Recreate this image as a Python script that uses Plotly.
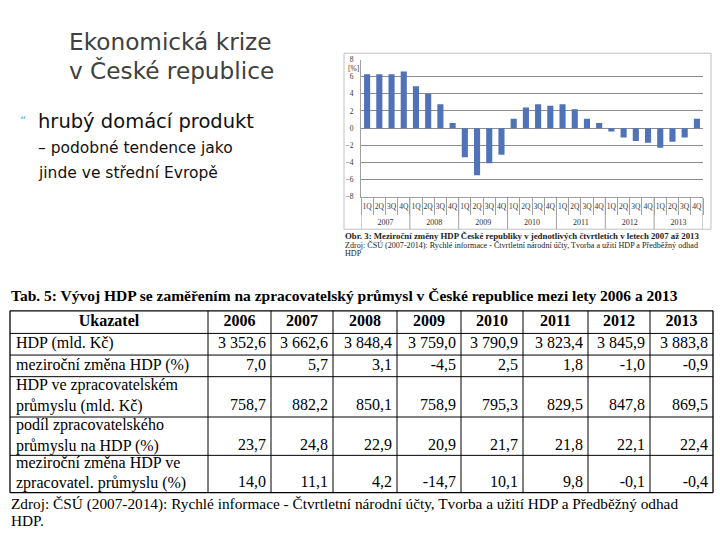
import plotly.graph_objects as go

# ---------------- data ----------------
years_q = ["2007", "2008", "2009", "2010", "2011", "2012", "2013"]
quarters = ["1Q", "2Q", "3Q", "4Q"]
gdp_quarterly_change = [6.3, 6.3, 6.3, 6.6,
                        4.9, 4.0, 2.8, 0.6,
                        -3.4, -5.5, -4.1, -3.1,
                        1.1, 2.4, 2.8, 2.6,
                        2.8, 2.2, 1.1, 0.6,
                        -0.4, -1.1, -1.5, -1.7,
                        -2.3, -1.6, -1.1, 1.1]
y_ticks = [-8, -6, -4, -2, 0, 2, 4, 6, 8]

table_header = ["Ukazatel", "2006", "2007", "2008", "2009", "2010", "2011", "2012", "2013"]
row_labels = ["HDP (mld. Kč)",
              "meziroční změna HDP (%)",
              "HDP ve zpracovatelském<br>průmyslu (mld. Kč)",
              "podíl zpracovatelského<br>průmyslu na HDP (%)",
              "meziroční změna HDP ve<br>zpracovatel. průmyslu (%)"]
hdp = [3352.6, 3662.6, 3848.4, 3759.0, 3790.9, 3823.4, 3845.9, 3883.8]
hdp_change = [7.0, 5.7, 3.1, -4.5, 2.5, 1.8, -1.0, -0.9]
hdp_manuf = [758.7, 882.2, 850.1, 758.9, 795.3, 829.5, 847.8, 869.5]
manuf_share = [23.7, 24.8, 22.9, 20.9, 21.7, 21.8, 22.1, 22.4]
manuf_change = [14.0, 11.1, 4.2, -14.7, 10.1, 9.8, -0.1, -0.4]

# ---------------- layout geometry (pixels) ----------------
W, H = 720, 540
tab_col_edges = [10, 208, 271, 333, 397, 461, 523, 588, 650, 713]
tab_row_edges = [312, 335, 357, 379, 420, 459, 497]


def px(x):
    return x / W


def py(y):
    return 1 - y / H


def fmt(v):
    return f"{v:,.1f}".replace(",", " ").replace(".", ",")


fig = go.Figure()
serif = "Liberation Serif"
GRAY = "#a0a0a0"

# ---------------- bar chart ----------------
nq = len(quarters)
n = len(years_q) * nq
x_pos = list(range(n))
q_labels = [q for _ in years_q for q in quarters]
q_bounds = [i - 0.5 for i in range(n + 1)]
y_centers = [g * nq + (nq - 1) / 2 for g in range(len(years_q))]
y_bounds = [g * nq - 0.5 for g in range(len(years_q) + 1)]
xr = [-0.5, n - 0.5]

fig.add_trace(go.Bar(x=x_pos, y=gdp_quarterly_change,
                     marker=dict(color="#4f72b8", line=dict(width=0)),
                     showlegend=False, hoverinfo="y", xaxis="x", yaxis="y"))
# carriers for the label axes (invisible)
fig.add_trace(go.Scatter(x=x_pos, y=[0] * n, mode="markers", marker=dict(opacity=0),
                         xaxis="x3", yaxis="y", showlegend=False, hoverinfo="skip"))
fig.add_trace(go.Scatter(x=y_centers, y=[0] * len(y_centers), mode="markers",
                         marker=dict(opacity=0), xaxis="x4", yaxis="y",
                         showlegend=False, hoverinfo="skip"))

dom = [px(361), px(703)]
fig.update_layout(
    xaxis=dict(domain=dom, range=xr, anchor="y", showgrid=False, zeroline=False,
               tickvals=q_bounds, ticktext=[""] * len(q_bounds),
               ticks="outside", ticklen=17, tickcolor=GRAY, showline=True, linecolor=GRAY,
               fixedrange=True),
    xaxis3=dict(domain=dom, range=xr, anchor="y", overlaying="x", side="bottom",
                showgrid=False, zeroline=False, showline=False, ticks="",
                tickvals=x_pos, ticktext=q_labels, tickangle=0, ticklabelstandoff=4,
                fixedrange=True, tickfont=dict(family=serif, size=7.5, color="#333")),
    xaxis4=dict(domain=dom, range=xr, anchor="y", overlaying="x", side="bottom",
                showgrid=False, zeroline=False, showline=False, ticks="",
                tickvals=y_centers, ticktext=years_q, tickangle=0, ticklabelstandoff=19,
                fixedrange=True, tickfont=dict(family=serif, size=8, color="#333")),
    yaxis=dict(domain=[py(196), py(56.5)], range=[-8, 8], tickvals=y_ticks,
               showgrid=True, gridcolor="#8c8c8c", gridwidth=1,
               zeroline=True, zerolinecolor="#8c8c8c", zerolinewidth=1,
               showline=True, linecolor=GRAY, ticks="", ticklabelstandoff=5,
               fixedrange=True,
               tickfont=dict(family=serif, size=7.5, color="#333")),
    xaxis2=dict(domain=[0, 1], range=[0, W], anchor="y2", visible=False, fixedrange=True),
    yaxis2=dict(domain=[0, 1], range=[H, 0], anchor="x2", visible=False, fixedrange=True),
    bargap=0.5,
)

# year dividers below the quarter row
for b in y_bounds:
    fig.add_shape(type="line", xref="x", yref="paper", x0=b, x1=b,
                  y0=py(229), y1=py(196), line=dict(color=GRAY, width=1))

# chart frame
fig.add_shape(type="rect", xref="paper", yref="paper",
              x0=px(344), x1=px(711), y0=py(229), y1=py(50),
              line=dict(color="#c0c0c0", width=1))
fig.add_annotation(text="[%]", xref="paper", yref="paper", x=px(346), y=py(66),
                   xanchor="left", yanchor="middle", showarrow=False,
                   font=dict(family=serif, size=7.5, color="#333"))

fig.add_annotation(text="<b>Obr. 3: Meziroční změny HDP České republiky v jednotlivých čtvrtletích v letech 2007 až 2013</b>",
                   xref="paper", yref="paper", x=px(343), y=py(236), xanchor="left",
                   yanchor="middle", showarrow=False,
                   font=dict(family=serif, size=8.8, color="#222"))
fig.add_annotation(text="Zdroj: ČSÚ (2007-2014): Rychlé informace - Čtvrtletní národní účty, Tvorba a užití HDP a Předběžný odhad",
                   xref="paper", yref="paper", x=px(343), y=py(245), xanchor="left",
                   yanchor="middle", showarrow=False,
                   font=dict(family=serif, size=8.1, color="#222"))
fig.add_annotation(text="HDP", xref="paper", yref="paper", x=px(343), y=py(254),
                   xanchor="left", yanchor="middle", showarrow=False,
                   font=dict(family=serif, size=8.1, color="#222"))

# ---------------- slide text ----------------
sans = "DejaVu Sans"
fig.add_annotation(text="Ekonomická krize", xref="paper", yref="paper", x=px(67), y=py(38),
                   xanchor="left", yanchor="middle", showarrow=False,
                   font=dict(family=sans, size=23.2, color="#404040"))
fig.add_annotation(text="v České republice", xref="paper", yref="paper", x=px(67), y=py(68),
                   xanchor="left", yanchor="middle", showarrow=False,
                   font=dict(family=sans, size=23.2, color="#404040"))
fig.add_annotation(text="“", xref="paper", yref="paper", x=px(18), y=py(119),
                   xanchor="left", yanchor="middle", showarrow=False,
                   font=dict(family=sans, size=12, color="#6aaed6"))
fig.add_annotation(text="hrubý domácí produkt", xref="paper", yref="paper", x=px(36), y=py(119),
                   xanchor="left", yanchor="middle", showarrow=False,
                   font=dict(family=sans, size=19.5, color="#111"))
fig.add_annotation(text="– podobné tendence jako", xref="paper", yref="paper", x=px(36), y=py(146),
                   xanchor="left", yanchor="middle", showarrow=False,
                   font=dict(family=sans, size=15.5, color="#111"))
fig.add_annotation(text="jinde ve střední Evropě", xref="paper", yref="paper", x=px(36), y=py(172),
                   xanchor="left", yanchor="middle", showarrow=False,
                   font=dict(family=sans, size=15.5, color="#111"))

# ---------------- table ----------------
fig.add_annotation(text="<b>Tab. 5: Vývoj HDP se zaměřením na zpracovatelský průmysl v České republice mezi lety 2006 a 2013</b>",
                   xref="paper", yref="paper", x=px(9), y=py(296), xanchor="left",
                   yanchor="middle", showarrow=False,
                   font=dict(family=serif, size=15.5, color="#000"))

for i, xe in enumerate(tab_col_edges):
    lw = 1.3 if i in (0, len(tab_col_edges) - 1) else 1
    fig.add_shape(type="line", xref="x2", yref="y2", x0=xe, x1=xe,
                  y0=tab_row_edges[0], y1=tab_row_edges[-1],
                  line=dict(color="black", width=lw))
for i, ye in enumerate(tab_row_edges):
    lw = 1.3 if i in (0, len(tab_row_edges) - 1) else 1
    fig.add_shape(type="line", xref="x2", yref="y2", x0=tab_col_edges[0], x1=tab_col_edges[-1],
                  y0=ye, y1=ye, line=dict(color="black", width=lw))

tfont = dict(family=serif, size=16, color="black")
row_mid = [(a + b) / 2 for a, b in zip(tab_row_edges[:-1], tab_row_edges[1:])]
col_mid = [(a + b) / 2 for a, b in zip(tab_col_edges[:-1], tab_col_edges[1:])]

fig.add_trace(go.Scatter(x=col_mid, y=[row_mid[0]] * len(col_mid),
                         text=["<b>%s</b>" % h for h in table_header],
                         mode="text", textposition="middle center", textfont=tfont,
                         xaxis="x2", yaxis="y2", showlegend=False, hoverinfo="skip"))

fig.add_trace(go.Scatter(x=[tab_col_edges[0] + 6] * len(row_labels), y=row_mid[1:],
                         text=row_labels, mode="text", textposition="middle right",
                         textfont=tfont, xaxis="x2", yaxis="y2",
                         showlegend=False, hoverinfo="skip"))

series = [hdp, hdp_change, hdp_manuf, manuf_share, manuf_change]
nx, ny, nt = [], [], []
for r, vals in enumerate(series):
    two_line = "<br>" in row_labels[r]
    yv = row_mid[r + 1] + (9.5 if two_line else 0)
    for c, v in enumerate(vals):
        nx.append(tab_col_edges[c + 2] - 5)
        ny.append(yv)
        nt.append(fmt(v))
fig.add_trace(go.Scatter(x=nx, y=ny, text=nt, mode="text", textposition="middle left",
                         textfont=tfont, xaxis="x2", yaxis="y2",
                         showlegend=False, hoverinfo="skip"))

fig.add_annotation(text="Zdroj: ČSÚ (2007-2014): Rychlé informace - Čtvrtletní národní účty, Tvorba a užití HDP a Předběžný odhad",
                   xref="paper", yref="paper", x=px(9), y=py(508), xanchor="left",
                   yanchor="middle", showarrow=False,
                   font=dict(family=serif, size=15.3, color="#000"))
fig.add_annotation(text="HDP.", xref="paper", yref="paper", x=px(9), y=py(525), xanchor="left",
                   yanchor="middle", showarrow=False,
                   font=dict(family=serif, size=15.3, color="#000"))

fig.update_layout(width=W, height=H, margin=dict(l=0, r=0, t=0, b=0),
                  paper_bgcolor="white", plot_bgcolor="rgba(0,0,0,0)")

fig.write_html("out.html", config={"displayModeBar": False},
               post_script="document.body.style.margin='0';document.body.style.overflow='hidden';")
